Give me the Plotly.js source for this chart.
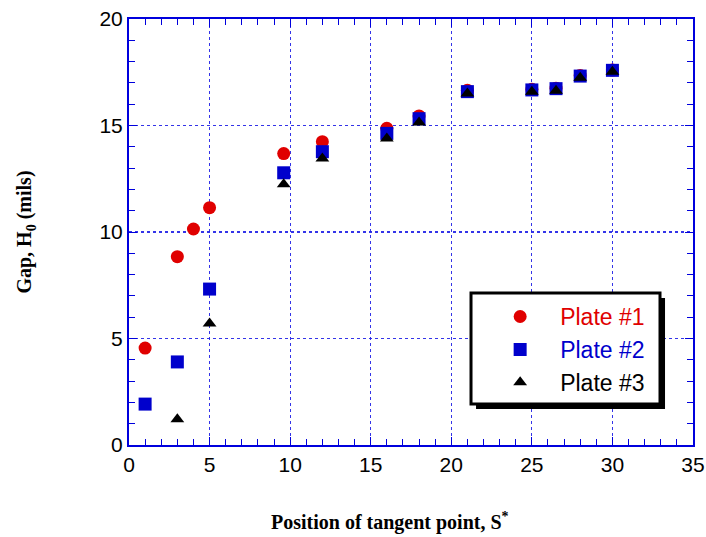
<!DOCTYPE html>
<html>
<head>
<meta charset="utf-8">
<script src="https://cdn.plot.ly/plotly-3.0.1.min.js"></script>
<style>html,body{margin:0;padding:0;background:#fff;}#chart{width:706px;height:537px;}</style>
</head>
<body>
<div id="chart"></div>
<script>
const plate1X = [1, 3, 4, 5, 9.6, 12, 16, 18, 21, 25, 26.5, 28, 30];
const plate1Y = [4.55, 8.84, 10.14, 11.14, 13.68, 14.24, 14.87, 15.45, 16.65, 16.7, 16.75, 17.35, 17.6];
const plate2X = [1, 3, 5, 9.6, 12, 16, 18, 21, 25, 26.5, 28, 30];
const plate2Y = [1.92, 3.9, 7.32, 12.78, 13.77, 14.63, 15.32, 16.59, 16.67, 16.73, 17.32, 17.59];
const plate3X = [3, 5, 9.6, 12, 16, 18, 21, 25, 26.5, 28, 30];
const plate3Y = [1.21, 5.7, 12.24, 13.45, 14.39, 15.14, 16.5, 16.58, 16.63, 17.24, 17.52];
const xTicks = [0, 5, 10, 15, 20, 25, 30, 35];
const yTicks = [0, 5, 10, 15, 20];
const xTitle = 'Position of tangent point, S<sup>*</sup>';
const yTitle = 'Gap, H<sub>0</sub> (mils)';

const RED = '#e00000', BLUE = '#0000cc', AXIS = '#0000dd';
const TITLE_FONT = {family: 'Liberation Serif, Times New Roman, serif', size: 20, color: '#000', weight: 'bold'};

const traces = [
  {x: plate1X, y: plate1Y, mode: 'markers', type: 'scatter',
   name: '<span style="color:' + RED + '">Plate #1</span>',
   marker: {symbol: 'circle', size: 13, color: RED}},
  {x: plate2X, y: plate2Y, mode: 'markers', type: 'scatter',
   name: '<span style="color:' + BLUE + '">Plate #2</span>',
   marker: {symbol: 'square', size: 13, color: BLUE}},
  {x: plate3X, y: plate3Y, mode: 'markers', type: 'scatter',
   name: '<span style="color:#000">Plate #3</span>',
   marker: {symbol: 'triangle-up', size: 12, color: '#000'}}
];

const axisCommon = {
  showline: true, linecolor: AXIS, linewidth: 2, mirror: 'allticks',
  ticks: 'inside', ticklen: 8, tickwidth: 1, tickcolor: AXIS,
  showgrid: true, gridcolor: 'rgba(30,30,230,0.9)', griddash: '3px,3px', gridwidth: 1.2,
  zeroline: false,
  tickfont: {family: 'Liberation Sans, Arial, sans-serif', size: 21, color: '#000'},
  minor: {ticks: 'inside', ticklen: 6, tickwidth: 1, tickcolor: AXIS, dtick: 1, showgrid: false}
};

const layout = {
  width: 706, height: 537,
  margin: {l: 129, r: 13, t: 19, b: 92},
  paper_bgcolor: '#fff', plot_bgcolor: '#fff',
  showlegend: true,
  xaxis: Object.assign({}, axisCommon, {
    range: [0, 35], tickvals: xTicks, ticktext: xTicks.map(String)
  }),
  yaxis: Object.assign({}, axisCommon, {
    range: [0, 20], tickvals: yTicks, ticktext: yTicks.map(String),
    minor: Object.assign({}, axisCommon.minor),
    title: {text: yTitle, standoff: 62, font: TITLE_FONT}
  }),
  annotations: [
    {text: xTitle, xref: 'paper', yref: 'paper', x: 0.463, y: -0.18,
     xanchor: 'center', yanchor: 'middle', showarrow: false, font: TITLE_FONT}
  ],
  legend: {
    x: 0.6226, y: 0.352, xanchor: 'left', yanchor: 'top',
    bgcolor: 'rgba(0,0,0,0)', borderwidth: 0,
    itemwidth: 70, tracegroupgap: 0,
    font: {family: 'Liberation Sans, Arial, sans-serif', size: 23, color: '#000'}
  },
  shapes: [
    {type: 'rect', xref: 'paper', yref: 'paper', layer: 'above',
     x0: 0.6153, x1: 0.9504, y0: 0.0845, y1: 0.3451,
     fillcolor: '#000', line: {width: 0}},
    {type: 'rect', xref: 'paper', yref: 'paper', layer: 'above',
     x0: 0.6064, x1: 0.9415, y0: 0.0962, y1: 0.3568,
     fillcolor: '#fff', line: {color: '#000', width: 3}}
  ]
};

Plotly.newPlot('chart', traces, layout, {displayModeBar: false, staticPlot: true});
</script>
</body>
</html>
